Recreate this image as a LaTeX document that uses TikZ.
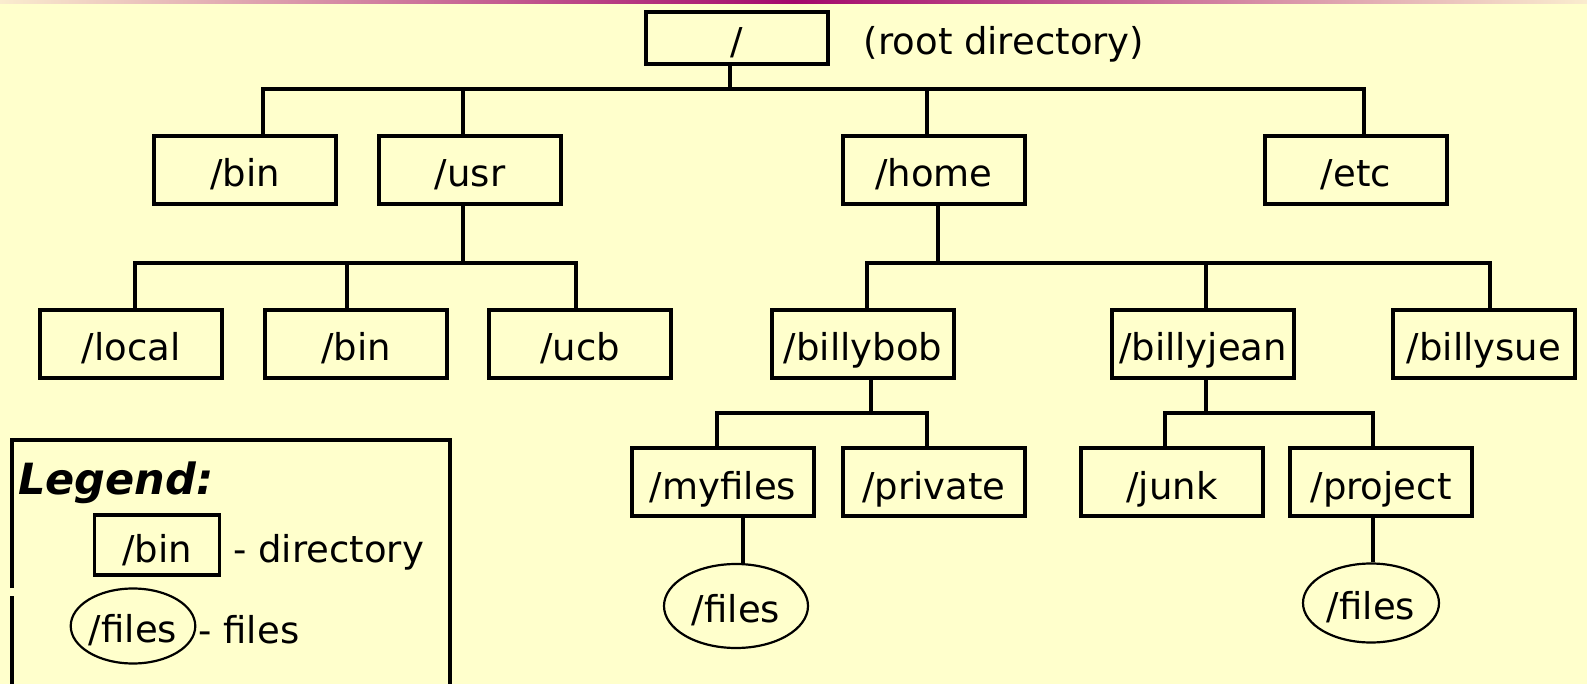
\documentclass[tikz,border=0pt]{standalone}
\usepackage{fontspec}
\setmainfont{DejaVu Sans}
\usetikzlibrary{shapes.geometric,positioning}
\definecolor{paper}{RGB}{255,255,204}
\definecolor{plum}{RGB}{163,8,108}
\definecolor{peach}{RGB}{250,236,206}
\tikzset{dir/.style={draw, line width=3.3pt, minimum width=182pt, minimum height=68pt, inner sep=0pt, text height=34pt, text depth=0pt, font=\fontsize{37}{40}\selectfont},
         file/.style={draw, ellipse, line width=2.2pt, minimum width=144pt, minimum height=84pt, inner sep=0pt, text height=32pt, text depth=0pt, font=\fontsize{37}{40}\selectfont},
         link/.style={line width=3.3pt},
         note/.style={inner sep=0pt, text height=34pt, text depth=0pt, font=\fontsize{37}{40}\selectfont}}

\begin{document}
\begin{tikzpicture}[x=1pt, y=-1pt]
  \useasboundingbox (0,0) rectangle (1587,684);
  \clip (0,0) rectangle (1587,684);
  \fill[paper] (0,0) rectangle (1587,684);
  \shade[left color=peach, right color=plum] (0,0) rectangle (794,4);
  \shade[left color=plum, right color=peach] (794,0) rectangle (1587,4);

  \coordinate (bus1) at (0,89);
  \coordinate (bus2) at (0,263);
  \coordinate (bus3) at (0,413);

  \node[dir, minimum height=52pt] (root) at (737,38) {/};
  \node[note, right=34pt of root] (rootnote) {(root directory)};

  \node[dir] (bin)  at ( 245,170) {/bin};
  \node[dir] (usr)  at ( 470,170) {/usr};
  \node[dir] (home) at ( 934,170) {/home};
  \node[dir] (etc)  at (1356,170) {/etc};

  \node[dir] (local)     at ( 131,344) {/local};
  \node[dir] (usrbin)    at ( 356,344) {/bin};
  \node[dir] (ucb)       at ( 580,344) {/ucb};
  \node[dir] (billybob)  at ( 863,344) {/billybob};
  \node[dir] (billyjean) at (1203,344) {/billyjean};
  \node[dir] (billysue)  at (1484,344) {/billysue};

  \node[dir] (myfiles) at ( 723,482) {/myfiles};
  \node[dir] (private) at ( 934,482) {/private};
  \node[dir] (junk)    at (1172,482) {/junk};
  \node[dir] (project) at (1381,482) {/project};

  \node[file] (bobfiles) at ( 736,606) {/files};
  \node[file, minimum width=136pt, minimum height=79pt] (jeanfiles) at (1371,603) {/files};

  \draw[link] ([xshift=-7pt]root.south) -- ([xshift=-7pt]root.south |- bus1);
  \draw[link] ([xshift=18pt]bin.north) |- ([xshift=8pt]etc.north |- bus1) -- ([xshift=8pt]etc.north);
  \draw[link] ([xshift=-7pt]usr.north) -- ([xshift=-7pt]usr.north |- bus1);
  \draw[link] ([xshift=-7pt]home.north) -- ([xshift=-7pt]home.north |- bus1);

  \draw[link] ([xshift=-7pt]usr.south) -- ([xshift=-7pt]usr.south |- bus2);
  \draw[link] ([xshift=4pt]local.north) |- ([xshift=-4pt]ucb.north |- bus2) -- ([xshift=-4pt]ucb.north);
  \draw[link] ([xshift=-9pt]usrbin.north) -- ([xshift=-9pt]usrbin.north |- bus2);

  \draw[link] ([xshift=4pt]home.south) -- ([xshift=4pt]home.south |- bus2);
  \draw[link] ([xshift=4pt]billybob.north) |- ([xshift=6pt]billysue.north |- bus2) -- ([xshift=6pt]billysue.north);
  \draw[link] ([xshift=3pt]billyjean.north) -- ([xshift=3pt]billyjean.north |- bus2);

  \draw[link] ([xshift=8pt]billybob.south) -- ([xshift=8pt]billybob.south |- bus3);
  \draw[link] ([xshift=-6pt]myfiles.north) |- ([xshift=-7pt]private.north |- bus3) -- ([xshift=-7pt]private.north);
  \draw[link] ([xshift=3pt]billyjean.south) -- ([xshift=3pt]billyjean.south |- bus3);
  \draw[link] ([xshift=-7pt]junk.north) |- ([xshift=-8pt]project.north |- bus3) -- ([xshift=-8pt]project.north);

  \draw[link] ([xshift=20pt]myfiles.south) -- ([xshift=20pt]myfiles.south |- bobfiles.north);
  \draw[link] ([xshift=-8pt]project.south) -- ([xshift=-8pt]project.south |- jeanfiles.north);

  % legend
  \draw[link] (12,700) -- (12,596) (12,588) -- (12,440) -- (450,440) -- (450,700);
  \node[note, anchor=west, font=\fontsize{43}{46}\selectfont\bfseries\itshape] (legend) at (18,477) {Legend:};
  \node[dir, minimum width=125pt, minimum height=60pt] (keydir) at (157,545) {/bin};
  \node[note, right=12pt of keydir] (keydirnote) {- directory};
  \node[file, minimum width=119pt, minimum height=75pt] (keyfile) at (133,626) {/files};
  \node[note, right=2pt of keyfile] (keyfilenote) {- files};
\end{tikzpicture}
\end{document}
